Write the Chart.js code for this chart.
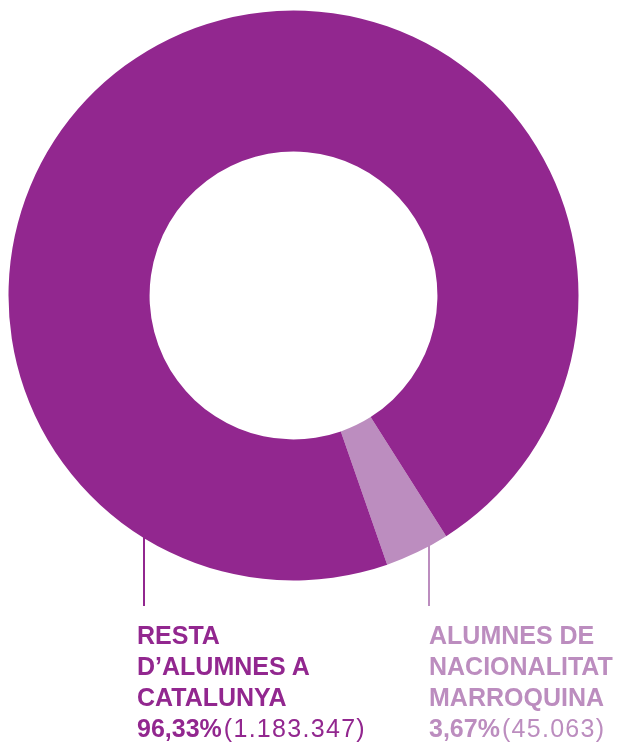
<!DOCTYPE html>
<html>
<head>
<meta charset="utf-8">
<script src="https://cdn.jsdelivr.net/npm/chart.js@4/dist/chart.umd.min.js"></script>
<style>
  html, body { margin: 0; padding: 0; background: #fff; }
  #wrap { position: relative; width: 618px; height: 744px; overflow: hidden; }
  #chart { position: absolute; left: 0; top: 0; width: 618px; height: 744px; }
  .lead { position: absolute; width: 2px; }
  .label {
    position: absolute;
    font-family: "Liberation Sans", Arial, sans-serif;
    font-size: 25px;
    line-height: 31px;
    font-weight: bold;
    white-space: nowrap;
  }
  .label .num { font-weight: normal; letter-spacing: 1.3px; margin-left: 2px; }
</style>
</head>
<body>
<div id="wrap">
  <div class="lead" id="lead0"></div>
  <div class="lead" id="lead1"></div>
  <div id="chart"><canvas id="c"></canvas></div>
  <div class="label" id="lab0"></div>
  <div class="label" id="lab1"></div>
</div>
<script>
// data
const categories = ['ALUMNES DE NACIONALITAT MARROQUINA', "RESTA D'ALUMNES A CATALUNYA"];
const labelLines = [
  ['ALUMNES DE', 'NACIONALITAT', 'MARROQUINA'],
  ['RESTA', 'D\u2019ALUMNES A', 'CATALUNYA']
];
const students = [45063, 1183347];
const percents = ['3,67%', '96,33%'];
const counts = ['(45.063)', '(1.183.347)'];
const colors = ['#BC8DBF', '#92278F'];

const chart = new Chart(document.getElementById('c'), {
  type: 'doughnut',
  data: {
    labels: categories,
    datasets: [{
      data: students,
      backgroundColor: colors,
      borderWidth: 0,
      hoverOffset: 0
    }]
  },
  options: {
    responsive: true,
    maintainAspectRatio: false,
    animation: false,
    rotation: 147.6,
    cutout: '50.5%',
    layout: { padding: { left: 8.5, right: 39.5, top: 10.5, bottom: 163.5 } },
    plugins: {
      legend: { display: false },
      tooltip: { enabled: false }
    }
  }
});

// labels and leader lines
const labelPos = [
  { left: 429, lineX: 428, lineTop: 530, lineBottom: 606 },
  { left: 137, lineX: 143, lineTop: 530, lineBottom: 606 }
];
categories.forEach((c, i) => {
  const lab = document.getElementById('lab' + i);
  lab.style.left = labelPos[i].left + 'px';
  lab.style.top = '620px';
  lab.style.color = colors[i];
  lab.innerHTML = labelLines[i].join('<br>') +
    '<br>' + percents[i] + '<span class="num">' + counts[i] + '</span>';
  const ln = document.getElementById('lead' + i);
  ln.style.left = labelPos[i].lineX + 'px';
  ln.style.top = labelPos[i].lineTop + 'px';
  ln.style.height = (labelPos[i].lineBottom - labelPos[i].lineTop) + 'px';
  ln.style.background = colors[i];
});
</script>
</body>
</html>
